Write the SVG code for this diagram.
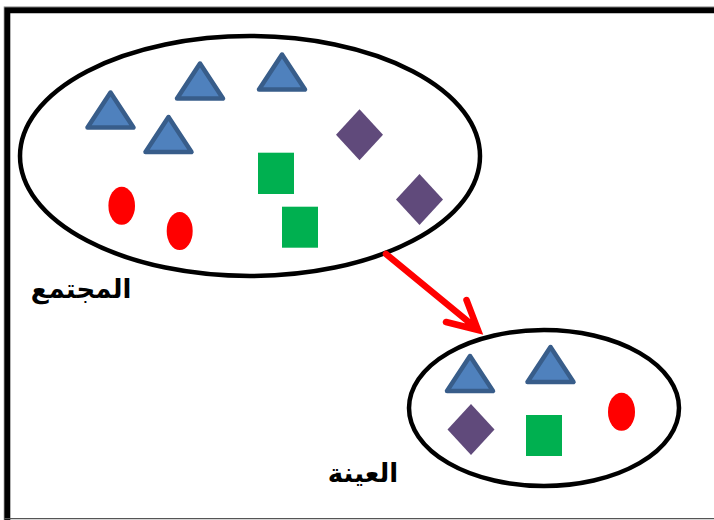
<svg xmlns="http://www.w3.org/2000/svg" width="714" height="520" viewBox="0 0 714 520">
<style>
.tri{fill:#4F81BD;stroke:#385D8A;stroke-width:4.5;stroke-linejoin:round}
.dia{fill:#604A7B}
.sq{fill:#00B050}
.dot{fill:#FF0000}
.set{fill:none;stroke:#000;stroke-width:4.5}
.lbl{font-family:"DejaVu Sans",sans-serif;font-weight:bold;font-size:26px;fill:#000;text-anchor:middle}
</style>
<defs>
<path id="t" d="M0,0 L23,35 L-23,35 Z"/>
<path id="d" d="M0,-25.5 L23.5,0 L0,25.5 L-23.5,0 Z"/>
</defs>
<rect x="0" y="0" width="714" height="520" fill="#fff"/>
<g id="frame">
<path d="M4,520 V6.5 H714" fill="none" stroke="#bbb" stroke-width="1"/>
<path d="M7.3,522 V10.3 H716" fill="none" stroke="#000" stroke-width="6"/>
<line x1="4" y1="518.7" x2="714" y2="518.7" stroke="#555" stroke-width="1.2"/>
</g>
<g id="population">
<ellipse class="set" cx="250" cy="156" rx="230" ry="120"/>
<use href="#t" class="tri" x="110.5" y="92.5"/>
<use href="#t" class="tri" x="200" y="63.5"/>
<use href="#t" class="tri" x="282" y="54.5"/>
<use href="#t" class="tri" x="168.5" y="117"/>
<use href="#d" class="dia" x="359.5" y="134.7"/>
<use href="#d" class="dia" x="419.5" y="199.5"/>
<rect class="sq" x="258" y="152.7" width="36" height="41.3"/>
<rect class="sq" x="282" y="206.7" width="36" height="41"/>
<ellipse class="dot" cx="121.7" cy="205.8" rx="13.3" ry="19"/>
<ellipse class="dot" cx="179.7" cy="231" rx="13" ry="19"/>
</g>
<g id="sample">
<ellipse class="set" cx="544" cy="408" rx="135" ry="78"/>
<use href="#t" class="tri" x="470" y="356"/>
<use href="#t" class="tri" x="550.5" y="347"/>
<use href="#d" class="dia" x="471" y="429.5"/>
<rect class="sq" x="526" y="415" width="36" height="41"/>
<ellipse class="dot" cx="621.5" cy="411.7" rx="13.5" ry="19"/>
</g>
<g id="connectors">
<path d="M386,254 L476,328 M466.5,300 L478,330 L446,322" fill="none" stroke="#FF0000" stroke-width="6.5" stroke-linecap="round" stroke-linejoin="miter"/>
</g>
<g id="labels">
<text class="lbl" x="81" y="298">المجتمع</text>
<text class="lbl" x="363" y="482">العينة</text>
</g>
</svg>
